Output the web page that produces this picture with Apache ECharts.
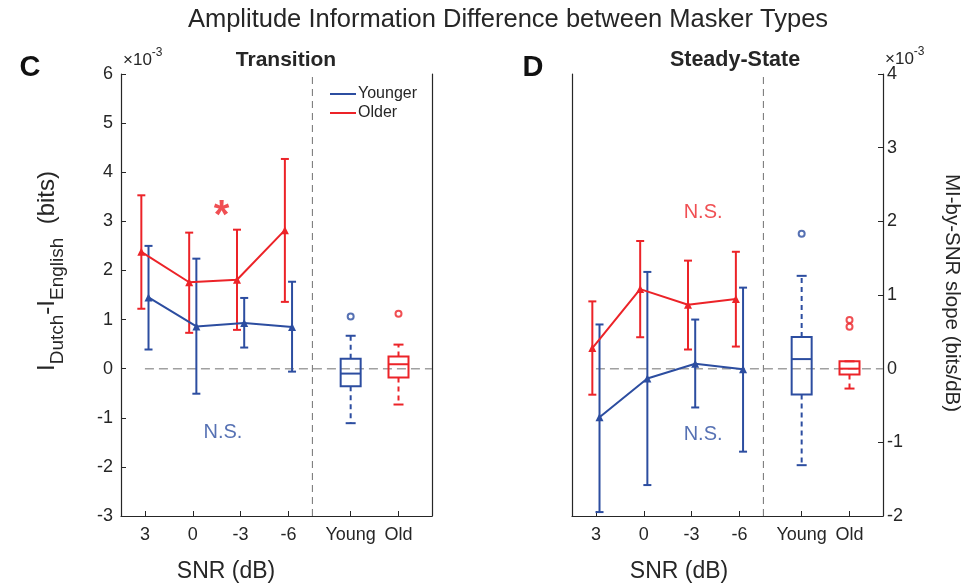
<!DOCTYPE html>
<html><head><meta charset="utf-8">
<script src="https://cdn.jsdelivr.net/npm/echarts@6/dist/echarts.min.js"></script>
<style>html,body{margin:0;padding:0;background:#fff}#c{width:975px;height:585px}</style>
</head><body><div id="c"></div>
<script>
// ---------- data (values in units of 1e-3) ----------
const snrLabels = ['3', '0', '-3', '-6'];
const groupLabels = ['Young', 'Old'];
const yTicksLeft = [-3, -2, -1, 0, 1, 2, 3, 4, 5, 6];
const yTicksRight = [-2, -1, 0, 1, 2, 3, 4];

// Panel C: Transition
const transYoungMean = [1.45, 0.86, 0.93, 0.85];
const transYoungLow  = [0.39, -0.51, 0.43, -0.06];
const transYoungHigh = [2.50, 2.24, 1.44, 1.77];
const transOldMean   = [2.38, 1.76, 1.81, 2.82];
const transOldLow    = [1.22, 0.73, 0.79, 1.36];
const transOldHigh   = [3.53, 2.77, 2.83, 4.27];
// boxes: [lower whisker, q1, median, q3, upper whisker]
const transBoxYoung = [-1.11, -0.36, -0.10, 0.20, 0.67];
const transBoxOld   = [-0.73, -0.18, 0.09, 0.25, 0.49];
const transOutYoung = [1.06];
const transOutOld   = [1.12];

// Panel D: Steady-State
const steadyYoungMean = [-0.99, -0.20, 0.10, -0.01];
const steadyYoungLow  = [-2.92, -2.37, -0.79, -1.69];
const steadyYoungHigh = [0.90, 1.97, 1.00, 1.65];
const steadyOldMean   = [0.42, 1.62, 1.30, 1.42];
const steadyOldLow    = [-0.53, 0.64, 0.39, 0.45];
const steadyOldHigh   = [1.37, 2.60, 2.20, 2.38];
const steadyBoxYoung = [-1.31, -0.35, 0.13, 0.43, 1.26];
const steadyBoxOld   = [-0.27, -0.08, 0.00, 0.10, 0.10];
const steadyOutYoung = [1.83];
const steadyOutOld   = [0.66, 0.57];

// annotations: [x position, y value, text, group]
const notesC = [[2.6, 3.27, '*', 'old'], [2.63, -1.30, 'N.S.', 'young']];
const notesD = [[3.24, 3.19, 'N.S.', 'old'], [3.24, -1.34, 'N.S.', 'young']];

// ---------- layout helpers ----------
const FONT = 'Liberation Sans, Arial, Helvetica, sans-serif';
const TXT = '#262626';
const BLUE = '#2c4da0';
const RED = '#ec2328';
const snrPos = snrLabels.map((_, i) => i + 1);
const boxPos = groupLabels.map((_, j) => 5.3 + j);
const tickPos = snrPos.concat(boxPos);
const tickText = snrLabels.concat(groupLabels);
const OFF = 0.075;
function labelFor(v) {
  for (let i = 0; i < tickPos.length; i++) if (Math.abs(tickPos[i] - v) < 1e-6) return tickText[i];
  return '';
}

function errRender(color) {
  return function (params, api) {
    const x = api.value(0);
    const pLo = api.coord([x, api.value(1)]);
    const pHi = api.coord([x, api.value(2)]);
    const w = 4;
    const st = { stroke: color, lineWidth: 2 };
    return { type: 'group', children: [
      { type: 'line', shape: { x1: pLo[0], y1: pLo[1], x2: pHi[0], y2: pHi[1] }, style: st },
      { type: 'line', shape: { x1: pLo[0] - w, y1: pLo[1], x2: pLo[0] + w, y2: pLo[1] }, style: st },
      { type: 'line', shape: { x1: pHi[0] - w, y1: pHi[1], x2: pHi[0] + w, y2: pHi[1] }, style: st }
    ]};
  };
}
function boxRender(params, api) {
  const x = api.value(0);
  const color = api.value(6) === 0 ? BLUE : RED;
  const p = [1, 2, 3, 4, 5].map(k => api.coord([x, api.value(k)]));
  const cx = p[0][0];
  const hw = 10, cw = 5;
  const st = { stroke: color, lineWidth: 2, fill: 'none' };
  const dash = { stroke: color, lineWidth: 2, lineDash: [5, 4] };
  return { type: 'group', children: [
    { type: 'rect', shape: { x: cx - hw, y: p[3][1], width: 2 * hw, height: p[1][1] - p[3][1] }, style: st },
    { type: 'line', shape: { x1: cx - hw, y1: p[2][1], x2: cx + hw, y2: p[2][1] }, style: st },
    { type: 'line', shape: { x1: cx, y1: p[3][1], x2: cx, y2: p[4][1] }, style: dash },
    { type: 'line', shape: { x1: cx, y1: p[1][1], x2: cx, y2: p[0][1] }, style: dash },
    { type: 'line', shape: { x1: cx - cw, y1: p[4][1], x2: cx + cw, y2: p[4][1] }, style: st },
    { type: 'line', shape: { x1: cx - cw, y1: p[0][1], x2: cx + cw, y2: p[0][1] }, style: st }
  ]};
}

function panelSeries(xi, yiL, yiR, yM, yL, yH, oM, oL, oH, bY, bO, outY, outO, notes) {
  const s = [];
  s.push({ type: 'line', xAxisIndex: xi, yAxisIndex: yiL, data: [[1, 0], [7, 0]], symbol: 'none', silent: true,
    lineStyle: { color: '#a0a0a0', width: 1.5, type: [9, 5] }, z: 1 });
  s.push({ type: 'line', xAxisIndex: xi, yAxisIndex: yiL, data: [[4.5, -3], [4.5, 6]], symbol: 'none', silent: true,
    lineStyle: { color: '#707070', width: 1, type: [7, 5] }, z: 1 });
  s.push({ name: 'Younger', type: 'line', xAxisIndex: xi, yAxisIndex: yiL,
    data: yM.map((v, i) => [snrPos[i] + OFF, v]), symbol: 'triangle', symbolSize: 8,
    itemStyle: { color: BLUE }, lineStyle: { color: BLUE, width: 2 }, z: 3 });
  s.push({ name: 'Older', type: 'line', xAxisIndex: xi, yAxisIndex: yiL,
    data: oM.map((v, i) => [snrPos[i] - OFF, v]), symbol: 'triangle', symbolSize: 8,
    itemStyle: { color: RED }, lineStyle: { color: RED, width: 2 }, z: 3 });
  s.push({ type: 'custom', xAxisIndex: xi, yAxisIndex: yiL, renderItem: errRender(BLUE),
    encode: { x: 0, y: [1, 2] }, data: yM.map((v, i) => [snrPos[i] + OFF, yL[i], yH[i]]), z: 3 });
  s.push({ type: 'custom', xAxisIndex: xi, yAxisIndex: yiL, renderItem: errRender(RED),
    encode: { x: 0, y: [1, 2] }, data: oM.map((v, i) => [snrPos[i] - OFF, oL[i], oH[i]]), z: 3 });
  s.push({ type: 'custom', xAxisIndex: xi, yAxisIndex: yiR, renderItem: boxRender,
    encode: { x: 0, y: [1, 5] },
    data: [[boxPos[0]].concat(bY, [0]), [boxPos[1]].concat(bO, [1])], z: 3 });
  s.push({ type: 'scatter', xAxisIndex: xi, yAxisIndex: yiR, symbol: 'emptyCircle', symbolSize: 6,
    itemStyle: { color: BLUE, borderWidth: 1.5 }, data: outY.map(v => [boxPos[0], v]), z: 4 });
  s.push({ type: 'scatter', xAxisIndex: xi, yAxisIndex: yiR, symbol: 'emptyCircle', symbolSize: 6,
    itemStyle: { color: RED, borderWidth: 1.5 }, data: outO.map(v => [boxPos[1], v]), z: 4 });
  notes.forEach(n => {
    const col = n[3] === 'old' ? RED : BLUE;
    const star = n[2] === '*';
    s.push({ type: 'scatter', xAxisIndex: xi, yAxisIndex: yiL, symbolSize: 0, silent: true,
      data: [[n[0], n[1]]],
      label: { show: true, position: 'inside', formatter: n[2], color: col, fontFamily: FONT,
        fontWeight: star ? 'bold' : 'normal',
        fontSize: star ? 40 : 20, offset: star ? [0, 9] : [0, 0] }, z: 5 });
  });
  return s;
}

function xAxisDef(gi) {
  return { gridIndex: gi, type: 'value', min: 0.5, max: 7,
    axisLine: { show: true, onZero: false, lineStyle: { color: TXT, width: 1.2 } },
    axisTick: { show: true, inside: true, length: 5, customValues: tickPos, lineStyle: { color: TXT } },
    axisLabel: { customValues: tickPos, formatter: labelFor, fontSize: 18, color: TXT, fontFamily: FONT, margin: 10 },
    splitLine: { show: false } };
}
function yAxisDef(gi, pos, ticks, labels) {
  return { gridIndex: gi, type: 'value', position: pos, min: ticks[0], max: ticks[ticks.length - 1], interval: 1,
    axisLine: { show: true, onZero: false, lineStyle: { color: TXT, width: 1.2 } },
    axisTick: { show: labels, inside: true, length: 5, lineStyle: { color: TXT } },
    axisLabel: { show: labels, fontSize: 18, color: TXT, fontFamily: FONT, margin: pos === 'left' ? 8 : 4 },
    splitLine: { show: false } };
}

const chart = echarts.init(document.getElementById('c'), null, { renderer: 'canvas' });
const txt = (x, y, text, size, extra) => ({ type: 'text', x: x, y: y, silent: true,
  style: Object.assign({ text: text, fontSize: size, fontFamily: FONT, fill: TXT, align: 'center', verticalAlign: 'middle' }, extra || {}) });
const expRich = {
  a: { fontSize: 17, fontFamily: FONT, fill: TXT, lineHeight: 22, verticalAlign: 'bottom' },
  b: { fontSize: 12, fontFamily: FONT, fill: TXT, lineHeight: 22, verticalAlign: 'top' }
};

const yLabelLeft = { type: 'text', x: 47, y: 271, rotation: Math.PI / 2, silent: true,
  style: { text: '{a|I}{s|Dutch}{a|-I}{s|English}{a|  (bits)}', align: 'center', verticalAlign: 'middle', fill: TXT,
    rich: { a: { fontSize: 24, fontFamily: FONT, fill: TXT, lineHeight: 40, verticalAlign: 'middle' },
            s: { fontSize: 19, fontFamily: FONT, fill: TXT, lineHeight: 20, verticalAlign: 'bottom' } } } };
const yLabelRight = txt(952, 293, 'MI-by-SNR slope (bits/dB)', 20.5);
yLabelRight.rotation = -Math.PI / 2;

chart.setOption({
  animation: false,
  backgroundColor: '#fff',
  grid: [
    { left: 121, top: 74, width: 311, height: 442 },
    { left: 572, top: 74, width: 311, height: 442 }
  ],
  xAxis: [xAxisDef(0), xAxisDef(1)],
  yAxis: [
    yAxisDef(0, 'left', yTicksLeft, true),
    yAxisDef(0, 'right', yTicksLeft, false),
    yAxisDef(1, 'left', yTicksLeft, false),
    yAxisDef(1, 'right', yTicksRight, true)
  ],
  legend: { data: ['Younger', 'Older'], orient: 'vertical', left: 330, top: 86, padding: 0, icon: 'rect',
    itemWidth: 26, itemHeight: 2, itemGap: 3,
    textStyle: { fontSize: 16, lineHeight: 16, color: TXT, fontFamily: FONT, padding: [0, 0, 0, -3] } },
  series: [].concat(
    panelSeries(0, 0, 0, transYoungMean, transYoungLow, transYoungHigh, transOldMean, transOldLow, transOldHigh,
      transBoxYoung, transBoxOld, transOutYoung, transOutOld, notesC),
    panelSeries(1, 2, 3, steadyYoungMean, steadyYoungLow, steadyYoungHigh, steadyOldMean, steadyOldLow, steadyOldHigh,
      steadyBoxYoung, steadyBoxOld, steadyOutYoung, steadyOutOld, notesD)
  ),
  graphic: [
    txt(508, 20, 'Amplitude Information Difference between Masker Types', 25.5),
    txt(286, 60, 'Transition', 21, { fontWeight: 'bold' }),
    txt(735, 60, 'Steady-State', 21.5, { fontWeight: 'bold' }),
    txt(30, 68, 'C', 29, { fontWeight: 'bold', fill: '#111' }),
    txt(533, 68, 'D', 29, { fontWeight: 'bold', fill: '#111' }),
    txt(226, 572, 'SNR (dB)', 23),
    txt(679, 572, 'SNR (dB)', 23),
    { type: 'text', x: 123, y: 58, silent: true, style: { text: '{a|×10}{b|-3}', align: 'left', verticalAlign: 'middle', fill: TXT, rich: expRich } },
    { type: 'text', x: 885, y: 57, silent: true, style: { text: '{a|×10}{b|-3}', align: 'left', verticalAlign: 'middle', fill: TXT, rich: expRich } },
    yLabelLeft,
    yLabelRight
  ]
});
</script>
</body></html>
